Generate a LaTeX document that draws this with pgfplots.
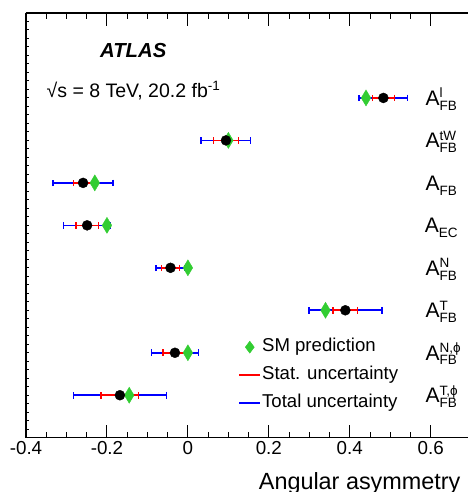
\documentclass[border=0pt]{standalone}
\usepackage{pgfplots}
\pgfplotsset{compat=1.18}
\usepackage{pgfplotstable}
\usepackage{fontspec}
\setmainfont{Liberation Sans}
\definecolor{smgreen}{RGB}{50,205,50}

\pgfplotstableread{
y x stat tot sm
8 0.483 0.027 0.060 0.44
7 0.094 0.031 0.061 0.10
6 -0.259 0.024 0.074 -0.23
5 -0.249 0.028 0.058 -0.20
4 -0.043 0.022 0.036 0.00
3 0.389 0.030 0.090 0.34
2 -0.032 0.029 0.058 0.00
1 -0.168 0.046 0.115 -0.145
}\data

\newcommand\ssz{\fontsize{13.5}{14}\selectfont}
\newcommand\asym[2]{A\raisebox{7.7pt}{\rlap{\ssz #1}}\raisebox{-4.7pt}{\ssz #2}}

\begin{document}
\begin{tikzpicture}
\begin{axis}[
  scale only axis,
  width=442pt, height=424.7pt,
  xmin=-0.4, xmax=0.692, ymin=0, ymax=10,
  clip=false,
  axis x line*=box, axis y line*=left,
  axis line style={line width=1.2pt},
  tick align=inside,
  xtick={-0.4,-0.2,0,0.2,0.4,0.6},
  xticklabels={-0.4,-0.2,0,0.2,0.4,0.6},
  minor x tick num=3,
  major tick length=12.7pt, minor tick length=6pt,
  every tick/.style={black, line width=1pt},
  xticklabel style={font=\fontsize{18.8}{20}\selectfont},
  ytick=\empty,
  extra y ticks={0.2,0.4,...,9.9},
  extra y tick labels={},
  extra y tick style={major tick length=3pt, tick pos=left},
  legend style={at={(axis cs:0.125,2.355)}, anchor=north west, draw=none, fill=none,
     inner sep=0pt, outer sep=0pt, row sep=9pt,
     nodes={inner sep=1pt, text height=13pt, text depth=4pt},
     font=\fontsize{18.6}{20}\selectfont},
  legend cell align=left,
]
\addlegendimage{legend image code/.code={\fill[smgreen] (0pt,6pt) -- (4.5pt,0pt) -- (0pt,-6pt) -- (-4.5pt,0pt) -- cycle;}}
\addlegendentry{SM prediction}
\addlegendimage{legend image code/.code={\draw[red, line width=1.6pt] (-10.5pt,0pt) -- (10.5pt,0pt);}}
\addlegendentry{Stat. uncertainty}
\addlegendimage{legend image code/.code={\draw[blue, line width=1.6pt] (-10.5pt,0pt) -- (10.5pt,0pt);}}
\addlegendentry{Total uncertainty}

\addplot[blue, line width=1.6pt, only marks, mark=none, forget plot,
  error bars/.cd, x dir=both, x explicit, error mark=|,
  error bar style={blue, line width=1.6pt},
  error mark options={blue, line width=1.6pt, mark size=3.3pt}]
  table[x=x, y=y, x error=tot] {\data};
\addplot[red, line width=1.6pt, only marks, mark=none, forget plot,
  error bars/.cd, x dir=both, x explicit, error mark=|,
  error bar style={red, line width=1.6pt},
  error mark options={red, line width=1.6pt, mark size=3.3pt}]
  table[x=x, y=y, x error=stat] {\data};
\addplot[only marks, mark=diamond*, mark size=8pt, forget plot,
  mark options={xscale=0.8, fill=smgreen, draw=smgreen}]
  table[x=sm, y=y] {\data};
\addplot[only marks, mark=*, mark size=5pt, forget plot,
  mark options={fill=black, draw=black}]
  table[x=x, y=y] {\data};

\node[anchor=base, font=\fontsize{20.3}{22}\selectfont\bfseries\itshape] at (axis cs:-0.135,8.957) {ATLAS};
\node[anchor=base, font=\fontsize{19.5}{22}\selectfont] at (axis cs:-0.135,8.015) {√s = 8 TeV, 20.2 fb\raisebox{7pt}{\fontsize{13.5}{14}\selectfont -1}};

\begin{scope}[every node/.style={anchor=base, yshift=-7.5pt, font=\fontsize{21}{22}\selectfont}]
\node at (axis cs:0.626,8) {\asym{l}{FB}};
\node at (axis cs:0.626,7) {\asym{tW}{FB}};
\node at (axis cs:0.626,6) {A\raisebox{-4.7pt}{\ssz FB}};
\node at (axis cs:0.626,5) {A\raisebox{-4.7pt}{\ssz EC}};
\node at (axis cs:0.626,4) {\asym{N}{FB}};
\node at (axis cs:0.626,3) {\asym{T}{FB}};
\node at (axis cs:0.626,2) {\asym{N,ϕ}{FB}};
\node at (axis cs:0.626,1) {\asym{T,ϕ}{FB}};
\end{scope}

\node[anchor=base east, font=\fontsize{23.4}{24}\selectfont] at ([xshift=-4pt,yshift=-51.6pt]rel axis cs:1,0) {Angular asymmetry};

\coordinate (ll) at (rel axis cs:0,0);
\coordinate (ur) at (rel axis cs:1,1);
\end{axis}
\pgfresetboundingbox
\path[use as bounding box] ([xshift=-26pt,yshift=-54.3pt]ll) rectangle ([yshift=13pt]ur);
\end{tikzpicture}
\end{document}
